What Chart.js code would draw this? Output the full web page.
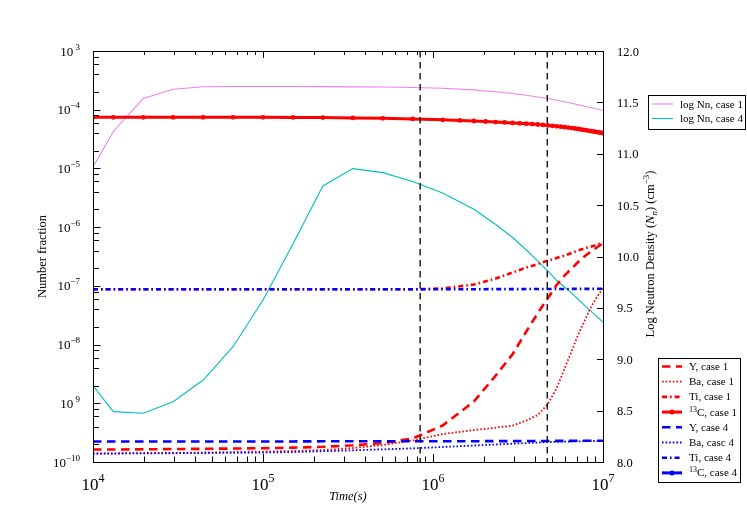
<!DOCTYPE html>
<html><head><meta charset="utf-8">
<script src="https://cdn.jsdelivr.net/npm/chart.js@4"></script>
<style>html,body{margin:0;padding:0;background:#fff;}canvas{display:block}</style>
</head><body>
<canvas id="c" width="747" height="513"></canvas>
<script>
// ---------- data ----------
const time = [1e4, 1.317e4, 1.975e4, 2.963e4, 4.444e4, 6.667e4, 1e5, 1.5e5, 2.25e5, 3.375e5, 5.063e5, 7.594e5, 1.139e6,
  1.739e6, 2.339e6, 2.939e6, 3.539e6, 4.139e6, 4.739e6, 5.339e6, 5.939e6, 6.539e6, 7.139e6, 7.739e6, 8.339e6, 8.939e6, 9.539e6, 1e7];
const timeFine = [1e4, 1.317e4, 1.975e4, 2.963e4, 4.444e4, 6.667e4, 1e5, 1.5e5, 2.25e5, 3.375e5, 5.063e5, 7.594e5, 1.139e6,
  1.439e6, 1.739e6, 2.039e6, 2.339e6, 2.639e6, 2.939e6, 3.239e6, 3.539e6, 3.839e6, 4.139e6, 4.439e6, 4.739e6, 5.039e6, 5.339e6,
  5.639e6, 5.939e6, 6.239e6, 6.539e6, 6.839e6, 7.139e6, 7.439e6, 7.739e6, 8.039e6, 8.339e6, 8.639e6, 8.939e6, 9.239e6, 9.539e6, 9.839e6, 1e7];

const nnCase1 = [10.871, 11.217, 11.537, 11.628, 11.652, 11.655, 11.655, 11.654, 11.653, 11.651, 11.649, 11.645, 11.637,
  11.622, 11.604, 11.587, 11.570, 11.552, 11.538, 11.521, 11.506, 11.491, 11.477, 11.465, 11.452, 11.441, 11.431, 11.423];
const nnCase4 = [8.743, 8.490, 8.474, 8.587, 8.798, 9.122, 9.577, 10.122, 10.686, 10.855, 10.816, 10.730, 10.618,
  10.459, 10.311, 10.185, 10.063, 9.956, 9.859, 9.766, 9.703, 9.643, 9.584, 9.530, 9.481, 9.435, 9.392, 9.359];

const yCase1 = [1.63e-10, 1.63e-10, 1.644e-10, 1.663e-10, 1.676e-10, 1.696e-10, 1.716e-10, 1.757e-10, 1.814e-10, 1.923e-10, 2.10e-10, 2.51e-10, 4.18e-10,
  1.07e-9, 2.97e-9, 6.85e-9, 1.67e-8, 3.45e-8, 6.21e-8, 1.033e-7, 1.50e-7, 1.97e-7, 2.55e-7, 3.14e-7, 3.70e-7, 4.24e-7, 4.87e-7, 5.26e-7];
const baCase1 = [1.393e-10, 1.405e-10, 1.421e-10, 1.432e-10, 1.449e-10, 1.478e-10, 1.507e-10, 1.537e-10, 1.598e-10, 1.729e-10, 1.945e-10, 2.32e-10, 2.99e-10,
  3.50e-10, 3.83e-10, 4.18e-10, 5.08e-10, 6.31e-10, 9.71e-10, 1.81e-9, 3.88e-9, 7.76e-9, 1.47e-8, 2.42e-8, 3.88e-8, 5.63e-8, 7.55e-8, 9.01e-8];
const tiCase1 = [8.73e-8, 8.73e-8, 8.73e-8, 8.73e-8, 8.73e-8, 8.73e-8, 8.73e-8, 8.73e-8, 8.73e-8, 8.73e-8, 8.73e-8, 8.73e-8, 9.01e-8,
  1.054e-7, 1.33e-7, 1.69e-7, 2.05e-7, 2.36e-7, 2.68e-7, 2.98e-7, 3.29e-7, 3.63e-7, 4.00e-7, 4.33e-7, 4.59e-7, 4.87e-7, 5.20e-7, 5.43e-7];
const c13Case1 = [7.42e-5, 7.42e-5, 7.42e-5, 7.42e-5, 7.42e-5, 7.42e-5, 7.42e-5, 7.40e-5, 7.34e-5, 7.26e-5, 7.14e-5, 6.97e-5, 6.73e-5,
  6.57e-5, 6.42e-5, 6.30e-5, 6.17e-5, 6.08e-5, 5.96e-5, 5.87e-5, 5.78e-5, 5.69e-5, 5.60e-5, 5.51e-5, 5.40e-5, 5.32e-5, 5.22e-5,
  5.14e-5, 5.04e-5, 4.96e-5, 4.86e-5, 4.79e-5, 4.69e-5, 4.60e-5, 4.53e-5, 4.44e-5, 4.37e-5, 4.29e-5, 4.22e-5, 4.16e-5, 4.09e-5, 4.03e-5, 4.00e-5];

const yCase4 = [2.24e-10, 2.24e-10, 2.24e-10, 2.24e-10, 2.24e-10, 2.24e-10, 2.24e-10, 2.24e-10, 2.25e-10, 2.25e-10, 2.25e-10, 2.25e-10, 2.26e-10,
  2.26e-10, 2.27e-10, 2.27e-10, 2.28e-10, 2.28e-10, 2.28e-10, 2.29e-10, 2.29e-10, 2.29e-10, 2.30e-10, 2.30e-10, 2.30e-10, 2.30e-10, 2.30e-10, 2.30e-10];
const baCase4 = [1.393e-10, 1.393e-10, 1.405e-10, 1.41e-10, 1.421e-10, 1.432e-10, 1.449e-10, 1.478e-10, 1.525e-10, 1.580e-10, 1.643e-10, 1.708e-10, 1.799e-10,
  1.908e-10, 1.985e-10, 2.048e-10, 2.104e-10, 2.146e-10, 2.18e-10, 2.206e-10, 2.223e-10, 2.24e-10, 2.25e-10, 2.26e-10, 2.27e-10, 2.28e-10, 2.28e-10, 2.28e-10];
const tiCase4 = [8.73e-8, 8.73e-8, 8.73e-8, 8.73e-8, 8.73e-8, 8.73e-8, 8.73e-8, 8.73e-8, 8.73e-8, 8.73e-8, 8.73e-8, 8.73e-8, 8.75e-8,
  8.77e-8, 8.79e-8, 8.80e-8, 8.82e-8, 8.83e-8, 8.84e-8, 8.85e-8, 8.86e-8, 8.87e-8, 8.88e-8, 8.89e-8, 8.90e-8, 8.90e-8, 8.91e-8, 8.91e-8];
const c13Case4 = [];

const markerTimes = [8.4e5, 4.7e6];

// tick labels
const xTickValues = [1e4, 1e5, 1e6, 1e7];
const xTickExps = ['4', '5', '6', '7'];
const yTickValues = [1e-10, 1e-9, 1e-8, 1e-7, 1e-6, 1e-5, 1e-4, 1e-3];
const yTickExps = ['\u221210', ' 9', '\u22128', '\u22127', '\u22126', '\u22125', '\u22124', ' 3'];
const y2TickValues = [8.0, 8.5, 9.0, 9.5, 10.0, 10.5, 11.0, 11.5, 12.0];
const y2TickLabels = ['8.0', '8.5', '9.0', '9.5', '10.0', '10.5', '11.0', '11.5', '12.0'];

// ---------- chart ----------
const FONT = '"Liberation Serif", "DejaVu Serif", serif';
function series(label, xs, ys, axis, style) {
  return Object.assign({
    label, data: xs.map((t, i) => ({x: t, y: ys[i]})), yAxisID: axis,
    pointRadius: 0, borderCapStyle: 'butt', tension: 0, fill: false
  }, style);
}
const RED = '#ff0000', BLUE = '#0000ff';
const styleY = {borderWidth: 2.6, borderDash: [8.5, 5.5]};
const styleBa = {borderWidth: 1.8, borderDash: [1.6, 2]};
const styleTi = {borderWidth: 2.6, borderDash: [5, 3, 1.6, 3]};
const style13 = {borderWidth: 3, pointRadius: 2.4, pointBorderWidth: 0};

const datasets = [
  series('log Nn, case 1', time, nnCase1, 'y2', {borderColor: '#ee82ee', borderWidth: 1.1, legendGroup: 1, order: 3}),
  series('log Nn, case 4', time, nnCase4, 'y2', {borderColor: '#00bfbf', borderWidth: 1.1, legendGroup: 1, order: 3}),
  series('Y, case 1', time, yCase1, 'y', Object.assign({borderColor: RED, legendGroup: 2, order: 2}, styleY)),
  series('Ba, case 1', time, baCase1, 'y', Object.assign({borderColor: RED, legendGroup: 2, order: 2}, styleBa)),
  series('Ti, case 1', time, tiCase1, 'y', Object.assign({borderColor: RED, legendGroup: 2, order: 2}, styleTi)),
  series('13C, case 1', timeFine, c13Case1, 'y', Object.assign({borderColor: RED, pointBackgroundColor: RED, legendGroup: 2, order: 2}, style13)),
  series('Y, case 4', time, yCase4, 'y', Object.assign({borderColor: BLUE, legendGroup: 2, order: 1}, styleY)),
  series('Ba, casc 4', time, baCase4, 'y', Object.assign({borderColor: BLUE, legendGroup: 2, order: 1}, styleBa)),
  series('Ti, case 4', time, tiCase4, 'y', Object.assign({borderColor: BLUE, legendGroup: 2, order: 1}, styleTi)),
  series('13C, case 4', timeFine.slice(0, c13Case4.length), c13Case4, 'y', Object.assign({borderColor: BLUE, pointBackgroundColor: BLUE, legendGroup: 2, order: 1}, style13))
];
markerTimes.forEach(t => datasets.push(series('', [t, t], [1e-3, 1e-10], 'y',
  {borderColor: '#000', borderWidth: 1.3, borderDash: [6.5, 4.5], order: 0})));

function drawRich(ctx, x, y, parts, align) {
  let total = 0;
  parts.forEach(p => { ctx.font = (p.italic ? 'italic ' : '') + p.size + 'px ' + FONT; p.w = ctx.measureText(p.t).width; total += p.w; });
  let cx = align === 'right' ? x - total : align === 'center' ? x - total / 2 : x;
  ctx.textAlign = 'left';
  parts.forEach(p => {
    ctx.font = (p.italic ? 'italic ' : '') + p.size + 'px ' + FONT;
    ctx.fillText(p.t, cx, y + (p.dy || 0));
    cx += p.w;
  });
}

const decorPlugin = {
  id: 'decor',
  afterDraw(chart) {
    const ctx = chart.ctx, a = chart.chartArea;
    const sx = chart.scales.x, sy = chart.scales.y, sy2 = chart.scales.y2;
    ctx.save();
    ctx.strokeStyle = '#000'; ctx.fillStyle = '#000'; ctx.lineWidth = 1;
    ctx.setLineDash([]);
    // frame
    ctx.strokeRect(Math.round(a.left) + 0.5, Math.round(a.top) + 0.5, Math.round(a.right - a.left), Math.round(a.bottom - a.top));
    ctx.beginPath();
    // x ticks (bottom and top)
    for (let d = 4; d <= 7; d++) {
      for (let m = 1; m <= 9; m++) {
        if (d === 7 && m > 1) break;
        const v = m * Math.pow(10, d);
        const px = Math.round(sx.getPixelForValue(v)) + 0.5;
        const len = m === 1 ? 8 : 5.5;
        ctx.moveTo(px, a.bottom); ctx.lineTo(px, a.bottom - len);
        ctx.moveTo(px, a.top); ctx.lineTo(px, a.top + (m === 1 ? 7 : 4));
      }
    }
    // left y ticks
    for (let d = -10; d <= -3; d++) {
      [1, 2, 4, 6, 8].forEach(m => {
        if (d === -3 && m > 1) return;
        const v = m * Math.pow(10, d);
        const py = Math.round(sy.getPixelForValue(v)) + 0.5;
        const len = m === 1 ? 7.5 : 6;
        ctx.moveTo(a.left, py); ctx.lineTo(a.left + len, py);
      });
    }
    // right y2 ticks
    y2TickValues.forEach(v => {
      const py = Math.round(sy2.getPixelForValue(v)) + 0.5;
      ctx.moveTo(a.right, py); ctx.lineTo(a.right - 6, py);
    });
    ctx.stroke();

    // tick labels
    ctx.textBaseline = 'alphabetic';
    yTickValues.forEach((v, i) => {
      const py = sy.getPixelForValue(v);
      drawRich(ctx, 80, py + 4.5, [{t: '10', size: 13}, {t: yTickExps[i], size: 9, dy: -6}], 'right');
    });
    xTickValues.forEach((v, i) => {
      const px = sx.getPixelForValue(v);
      drawRich(ctx, px, 490, [{t: '10', size: 17}, {t: xTickExps[i], size: 12, dy: -8}], 'center');
    });
    y2TickValues.forEach((v, i) => {
      const py = sy2.getPixelForValue(v);
      drawRich(ctx, 617, py + 4.5, [{t: y2TickLabels[i], size: 12.5}], 'left');
    });

    // axis titles
    drawRich(ctx, (a.left + a.right) / 2, 500, [{t: 'Time(s)', size: 12.5, italic: true}], 'center');
    ctx.save();
    ctx.translate(46, (a.top + a.bottom) / 2);
    ctx.rotate(-Math.PI / 2);
    drawRich(ctx, 0, 0, [{t: 'Number fraction', size: 12.5}], 'center');
    ctx.restore();
    ctx.save();
    ctx.translate(654, 254);
    ctx.rotate(-Math.PI / 2);
    drawRich(ctx, 0, 0, [
      {t: 'Log Neutron Density (', size: 12.5},
      {t: 'N', size: 12.5, italic: true},
      {t: 'n', size: 9, italic: true, dy: 3},
      {t: ') (cm', size: 12.5},
      {t: '\u22123', size: 9, dy: -5},
      {t: ')', size: 12.5}
    ], 'center');
    ctx.restore();

    // legends
    const boxes = [
      {group: 1, x: 648.5, y: 95.5, w: 97, h: 34, first: 104, step: 14.5, sx0: 652, sx1: 673, tx: 680},
      {group: 2, x: 658.5, y: 358.5, w: 82, h: 124, first: 366.5, step: 15.2, sx0: 662, sx1: 682, tx: 689}
    ];
    boxes.forEach(b => {
      ctx.setLineDash([]);
      ctx.fillStyle = '#fff';
      ctx.fillRect(b.x, b.y, b.w, b.h);
      ctx.strokeStyle = '#000'; ctx.lineWidth = 1;
      ctx.strokeRect(b.x, b.y, b.w, b.h);
      const items = chart.data.datasets.filter(d => d.legendGroup === b.group);
      items.forEach((d, i) => {
        const yy = b.first + i * b.step;
        ctx.strokeStyle = d.borderColor; ctx.lineWidth = d.borderWidth;
        ctx.setLineDash(d.borderDash || []);
        ctx.lineCap = 'butt';
        ctx.beginPath(); ctx.moveTo(b.sx0, yy); ctx.lineTo(b.sx1, yy); ctx.stroke();
        ctx.setLineDash([]);
        if (d.pointRadius > 0) {
          ctx.fillStyle = d.borderColor;
          ctx.beginPath(); ctx.arc((b.sx0 + b.sx1) / 2, yy, 2.5, 0, Math.PI * 2); ctx.fill();
        }
        ctx.fillStyle = '#000';
        if (d.label.startsWith('13C')) {
          drawRich(ctx, b.tx, yy + 3.5, [{t: '13', size: 8, dy: -4}, {t: d.label.slice(2), size: 11}], 'left');
        } else {
          drawRich(ctx, b.tx, yy + 3.5, [{t: d.label, size: 11}], 'left');
        }
      });
    });
    ctx.restore();
  }
};

new Chart(document.getElementById('c'), {
  type: 'line',
  data: {datasets},
  options: {
    responsive: false,
    animation: false,
    events: [],
    layout: {padding: {left: 93, right: 144, top: 51, bottom: 51}},
    plugins: {legend: {display: false}, tooltip: {enabled: false}, title: {display: false}},
    scales: {
      x: {type: 'logarithmic', min: 1e4, max: 1e7, display: false},
      y: {type: 'logarithmic', min: 1e-10, max: 1e-3, display: false},
      y2: {type: 'linear', min: 8, max: 12, display: false, position: 'right'}
    }
  },
  plugins: [decorPlugin]
});
</script>
</body></html>
